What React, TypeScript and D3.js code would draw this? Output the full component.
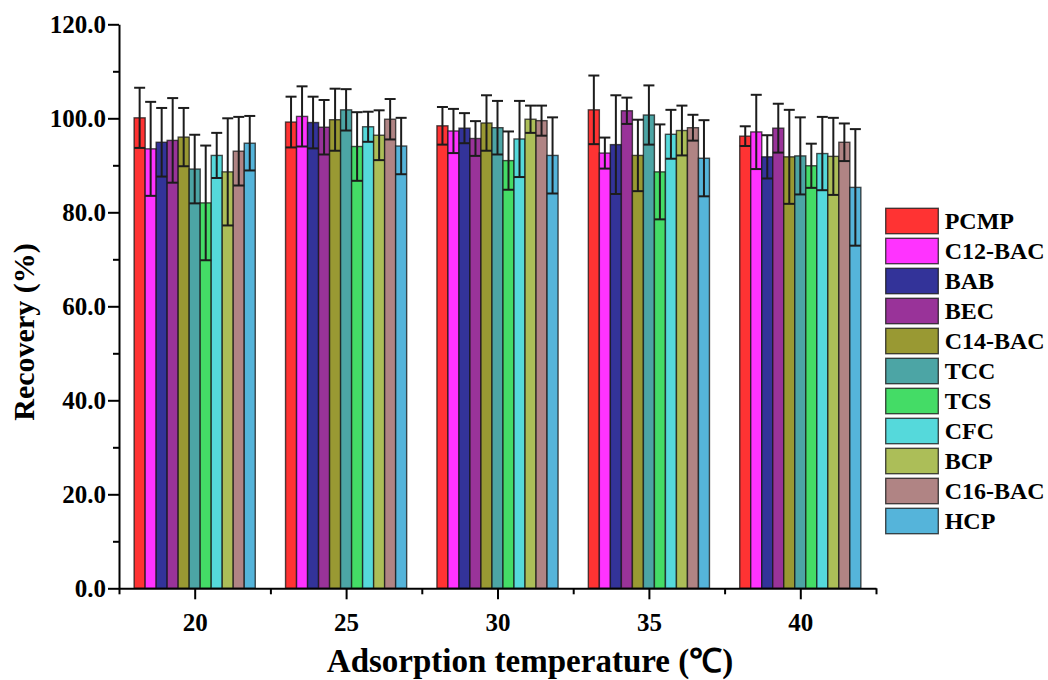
import React from 'react'
import * as d3 from 'd3'

// adsorption temperatures (°C)
const temperatures = [20, 25, 30, 35, 40]

const seriesNames = ['PCMP', 'C12-BAC', 'BAB', 'BEC', 'C14-BAC', 'TCC', 'TCS', 'CFC', 'BCP', 'C16-BAC', 'HCP']
const seriesColors = ['#ff3333', '#ff33ff', '#333399', '#993399', '#999933', '#4ca5a5', '#44dc66', '#55d9db', '#acbe58', '#b08484', '#55b4da']

// recovery (%) per series, one value per temperature
const PCMP = [100.1, 99.2, 98.4, 101.8, 96.2]
const C12_BAC = [93.5, 100.4, 97.3, 92.6, 97.1]
const BAB = [94.9, 99.1, 97.9, 94.4, 91.8]
const BEC = [95.3, 98.1, 95.7, 101.6, 97.9]
const C14_BAC = [96.0, 99.7, 99.0, 92.1, 91.8]
const TCC = [89.2, 101.8, 98.0, 100.7, 92.0]
const TCS = [82.0, 94.0, 91.0, 88.6, 89.9]
const CFC = [92.1, 98.2, 95.6, 96.6, 92.5]
const BCP = [88.6, 96.4, 99.8, 97.4, 91.9]
const C16_BAC = [93.0, 99.8, 99.5, 98.0, 94.9]
const HCP = [94.7, 94.1, 92.1, 91.5, 85.3]

// standard deviations
const PCMP_err = [6.4, 5.4, 4.0, 7.3, 2.1]
const C12_BAC_err = [10.0, 6.4, 4.7, 3.3, 7.9]
const BAB_err = [7.3, 5.5, 3.2, 10.5, 4.6]
const BEC_err = [9.0, 5.8, 3.7, 2.8, 5.2]
const C14_BAC_err = [6.2, 6.6, 5.9, 7.6, 10.0]
const TCC_err = [7.3, 4.4, 5.7, 6.3, 8.2]
const TCS_err = [12.2, 7.3, 6.2, 10.1, 4.7]
const CFC_err = [4.8, 3.2, 8.1, 5.2, 7.8]
const BCP_err = [11.4, 5.3, 2.9, 5.3, 8.2]
const C16_BAC_err = [7.3, 4.3, 3.2, 2.75, 4.0]
const HCP_err = [5.8, 6.0, 8.1, 8.1, 12.4]

const values = [PCMP, C12_BAC, BAB, BEC, C14_BAC, TCC, TCS, CFC, BCP, C16_BAC, HCP]
const errors = [PCMP_err, C12_BAC_err, BAB_err, BEC_err, C14_BAC_err, TCC_err, TCS_err, CFC_err, BCP_err, C16_BAC_err, HCP_err]

const yTicks = [0, 20, 40, 60, 80, 100, 120]

const FONT = '"Liberation Serif", "Times New Roman", serif'

const App = () => {
  const ref = React.useRef<SVGSVGElement | null>(null)

  React.useEffect(() => {
    const svg = d3.select(ref.current)
    svg.selectAll('*').remove()

    const x = d3.scaleLinear().domain([17.5, 42.5]).range([119, 876])
    const y = d3.scaleLinear().domain([0, 120]).range([588.3, 24.3])

    // bars inside a group span 4 °C on the axis
    const groupW = x(22) - x(18)
    const inner = d3.scaleBand().domain(seriesNames).range([0, groupW])
    const bw = inner.bandwidth()

    const rows = seriesNames.flatMap((name, si) =>
      temperatures.map((t, ti) => ({ name, si, t, v: values[si][ti], e: errors[si][ti] }))
    )
    const bx = (d: any) => x(d.t) - groupW / 2 + (inner(d.name) || 0)

    // bars
    svg.append('g')
      .selectAll('rect')
      .data(rows)
      .enter()
      .append('rect')
      .attr('x', bx)
      .attr('y', (d) => y(d.v))
      .attr('width', bw)
      .attr('height', (d) => y(0) - y(d.v))
      .attr('fill', (d) => seriesColors[d.si])
      .attr('stroke', 'rgba(20,20,20,0.75)')
      .attr('stroke-width', 1.4)

    // error bars
    const eb = svg.append('g').attr('stroke', '#1c1c1c').attr('stroke-width', 2)
    const cap = 11
    rows.forEach((d) => {
      const cx = bx(d) + bw / 2
      eb.append('line').attr('x1', cx).attr('x2', cx).attr('y1', y(d.v - d.e)).attr('y2', y(d.v + d.e))
      eb.append('line').attr('x1', cx - cap / 2).attr('x2', cx + cap / 2).attr('y1', y(d.v + d.e)).attr('y2', y(d.v + d.e))
      eb.append('line').attr('x1', cx - cap / 2).attr('x2', cx + cap / 2).attr('y1', y(d.v - d.e)).attr('y2', y(d.v - d.e))
    })

    // y axis
    const yAxis = svg.append('g')
      .attr('transform', `translate(${x(17.5)},0)`)
      .call(d3.axisLeft(y).tickValues(yTicks).tickFormat(d3.format('.1f')).tickSize(11).tickPadding(2).tickSizeOuter(0))
    svg.append('g')
      .attr('transform', `translate(${x(17.5)},0)`)
      .call(d3.axisLeft(y).tickValues([10, 30, 50, 70, 90, 110]).tickFormat(() => '').tickSize(6).tickSizeOuter(0))
      .call((g) => g.select('.domain').remove())

    // x axis
    const xAxis = svg.append('g')
      .attr('transform', `translate(0,${y(0)})`)
      .call(d3.axisBottom(x).tickValues(temperatures).tickFormat(d3.format('d')).tickSize(11).tickPadding(14).tickSizeOuter(0))
    svg.append('g')
      .attr('transform', `translate(0,${y(0)})`)
      .call(d3.axisBottom(x).tickValues([17.5, 22.5, 27.5, 32.5, 37.5, 42.5]).tickFormat(() => '').tickSize(6).tickSizeOuter(0))
      .call((g) => g.select('.domain').remove())

    svg.selectAll('.domain').attr('stroke', '#000').attr('stroke-width', 2)
    svg.selectAll('.tick line').attr('stroke', '#000').attr('stroke-width', 2)
    ;[yAxis, xAxis].forEach((g) =>
      g.selectAll('text')
        .attr('fill', '#000')
        .style('font-family', FONT)
        .style('font-weight', 'bold')
        .style('font-size', '25px')
    )

    // axis titles
    svg.append('text')
      .attr('transform', `translate(34,332) rotate(-90)`)
      .attr('text-anchor', 'middle')
      .style('font-family', FONT)
      .style('font-weight', 'bold')
      .style('font-size', '30px')
      .text('Recovery (%)')

    svg.append('text')
      .attr('x', 530)
      .attr('y', 672)
      .attr('text-anchor', 'middle')
      .style('font-family', FONT)
      .style('font-weight', 'bold')
      .style('font-size', '33px')
      .text('Adsorption temperature (℃)')

    // legend
    const legend = svg.append('g')
      .selectAll('g')
      .data(seriesNames)
      .enter()
      .append('g')
      .attr('transform', (d, i) => `translate(885.7,${208.3 + i * 30})`)
    legend.append('rect')
      .attr('width', 52.6)
      .attr('height', 25.4)
      .attr('fill', (d, i) => seriesColors[i])
      .attr('stroke', 'rgba(20,20,20,0.75)')
      .attr('stroke-width', 1.4)
    legend.append('text')
      .attr('x', 59)
      .attr('y', 21)
      .style('font-family', FONT)
      .style('font-weight', 'bold')
      .style('font-size', '24px')
      .text((d) => d)
  }, [])

  return (
    <svg
      ref={ref}
      width={1048}
      height={680}
      style={{ position: 'absolute', left: 0, top: 0, background: '#fff' }}
    ></svg>
  )
}

export default App
